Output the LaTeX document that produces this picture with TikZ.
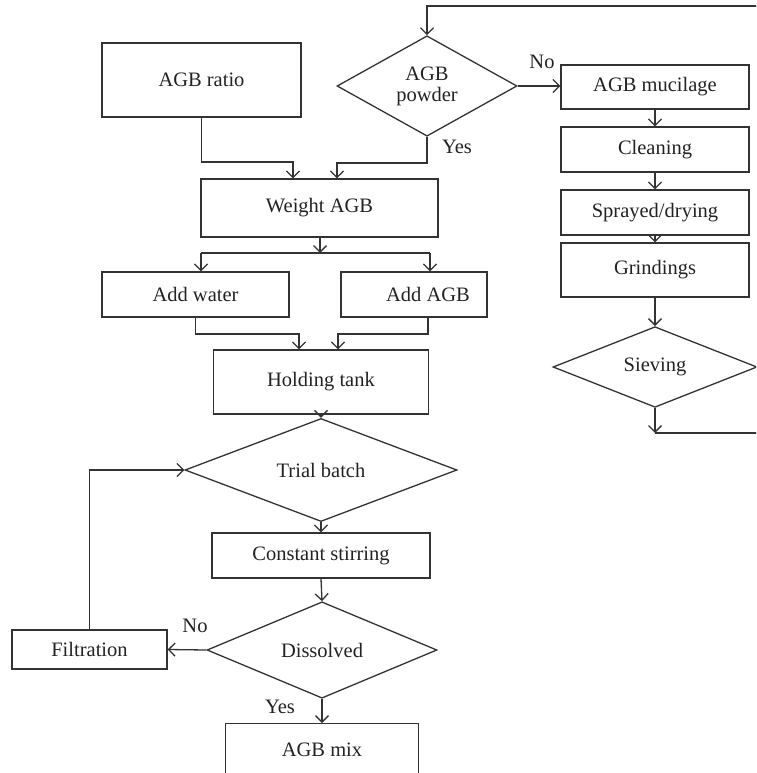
\documentclass[tikz,border=0pt]{standalone}
\usepackage{fontspec}
\setmainfont{Liberation Serif}
\usetikzlibrary{shapes.geometric,arrows.meta}
\definecolor{linec}{HTML}{333333}
\definecolor{textc}{HTML}{222222}
\tikzset{
  box/.style={draw=linec, line width=1.3pt, rectangle, inner sep=0pt, text=textc},
  dia/.style={draw=linec, line width=1.3pt, diamond, inner sep=0pt, text=textc, align=center},
  arr/.style={draw=linec, line width=1.3pt, -{Straight Barb[length=6.5pt,width=13pt]}},
  ln/.style={draw=linec, line width=1.3pt},
  lbl/.style={text=textc, inner sep=0pt}
}
\begin{document}
\begin{tikzpicture}[x=1pt, y=-1pt, font=\fontsize{20.5}{21}\selectfont]
\clip (0,0) rectangle (756,773);
% right column
\node[dia, minimum width=180pt, minimum height=96pt] (powder) at (427,86) {AGB\\powder};
\node[box, minimum width=188pt, minimum height=44pt] (mucil) at (655,87) {AGB mucilage};
\node[box, minimum width=188pt, minimum height=45pt] (clean) at (655,149.5) {Cleaning};
\node[box, minimum width=188pt, minimum height=45pt] (spray) at (655,212.5) {Sprayed/drying};
\node[box, minimum width=188pt, minimum height=54pt] (grind) at (655,270) {Grindings};
\node[dia, minimum width=204pt, minimum height=76pt] (sieve) at (655,367) {Sieving};
% left column
\node[box, minimum width=199pt, minimum height=74pt] (ratio) at (201.5,80) {AGB ratio};
\node[box, minimum width=237pt, minimum height=58pt] (weight) at (319.5,208) {Weight AGB};
\node[box, minimum width=187pt, minimum height=45pt] (water) at (195.5,294.5) {Add water};
\node[box, minimum width=146pt, minimum height=45pt] (addagb) at (414,294.5) {\hspace*{28pt}Add AGB};
\node[box, minimum width=215pt, minimum height=64pt] (hold) at (321,382) {Holding tank};
\node[dia, minimum width=272pt, minimum height=86pt] (trial) at (321,470) {Trial batch};
\node[box, minimum width=218pt, minimum height=45pt] (stir) at (321,555.5) {Constant stirring};
\node[dia, minimum width=230pt, minimum height=84pt] (diss) at (322,650) {Dissolved};
\node[box, minimum width=155pt, minimum height=39pt] (filt) at (89.5,649.5) {Filtration};
\node[box, minimum width=193pt, minimum height=52pt, anchor=north] (mix) at (322,723) {AGB mix};
% coordinates
\coordinate (s1) at (655,433);
\coordinate (rtop) at (790,6);
\coordinate (j1) at (293,162);
\coordinate (j2) at (337,163);
\coordinate (sp) at (320,253);
\coordinate (spl) at (201,253);
\coordinate (spr) at (430,253);
\coordinate (j3) at (299,334);
\coordinate (j4) at (338,334);
% connectors right
\draw[arr] (sieve.south) -- (s1);
\draw[arr] (s1) -| (rtop) -| (powder.north);
\draw[arr] (powder.east) -- (powder.east -| mucil.west);
\draw[arr] (mucil.south) -- (clean.north);
\draw[arr] (clean.south) -- (spray.north);
\draw[arr] (spray.south) -- (grind.north);
\draw[arr] (grind.south) -- (sieve.north);
% connectors left
\draw[arr] (ratio.south) |- (j1) -- (j1 |- weight.north);
\draw[arr] (powder.south) |- (j2) -- (j2 |- weight.north);
\draw[arr] (weight.south -| sp) -- (sp);
\draw[ln] (spl) -- (spr);
\draw[arr] (spl) -- (spl |- water.north);
\draw[arr] (spr) -- (spr |- addagb.north);
\draw[arr] (water.south) |- (j3) -- (j3 |- hold.north);
\draw[arr] ([xshift=14pt]addagb.south) |- (j4) -- (j4 |- hold.north);
\draw[arr] (hold.south) -- (trial.north);
\draw[arr] (trial.south) -- (stir.north);
\draw[arr] (stir.south) -- (diss.north);
\draw[arr] (diss.west) -- (filt.east);
\draw[arr] (filt.north) |- (trial.west);
\draw[arr] (diss.south) -- (mix.north);
% labels
\node[lbl] (lno1) at (542,62) {No};
\node[lbl] (lyes1) at (457,147) {Yes};
\node[lbl] (lno2) at (195,626) {No};
\node[lbl] (lyes2) at (280,707) {Yes};
\end{tikzpicture}
\end{document}
